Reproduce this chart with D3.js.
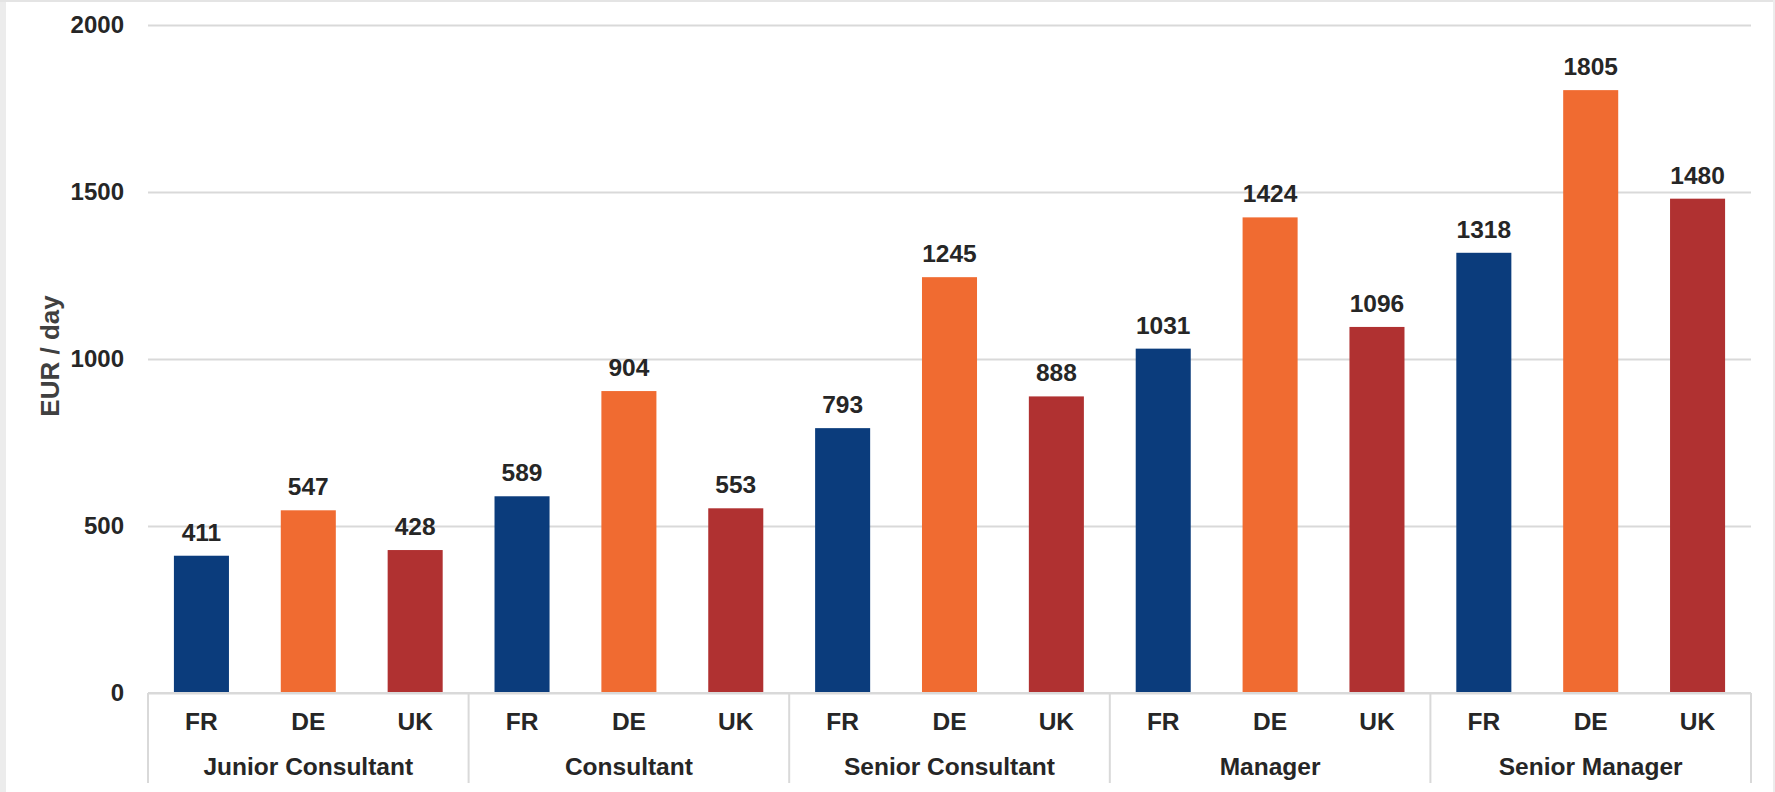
<!DOCTYPE html>
<html>
<head>
<meta charset="utf-8">
<script src="https://cdn.jsdelivr.net/npm/d3@7"></script>
<style>
  html, body { margin: 0; padding: 0; background: #fff; }
  svg { display: block; font-family: "Liberation Sans", Arial, sans-serif; }
</style>
</head>
<body>
<svg id="chart" width="1775" height="792"></svg>
<script>
const groups = ["Junior Consultant", "Consultant", "Senior Consultant", "Manager", "Senior Manager"];
const countries = ["FR", "DE", "UK"];
const valuesFR = [411, 589, 793, 1031, 1318];
const valuesDE = [547, 904, 1245, 1424, 1805];
const valuesUK = [428, 553, 888, 1096, 1480];
const yTicks = [0, 500, 1000, 1500, 2000];
const yTitle = "EUR / day";
const colors = { FR: "#0B3C7C", DE: "#F06B31", UK: "#B03131" };

(function () {
const seriesByCountry = { FR: valuesFR, DE: valuesDE, UK: valuesUK };
const data = [];
groups.forEach((g, i) => countries.forEach(c => data.push({ group: g, country: c, value: seriesByCountry[c][i] })));

const W = 1775, H = 792;
const plotLeft = 148, plotRight = 1751, plotTop = 25, base = 693;
const fs = 24.5;
const svg = d3.select("#chart");

// frame
svg.append("rect").attr("x", 0).attr("y", 0).attr("width", W).attr("height", H).attr("fill", "#fff");
svg.append("rect").attr("x", 0).attr("y", 0).attr("width", 6).attr("height", H).attr("fill", "#ececec");
svg.append("rect").attr("x", 0).attr("y", 0).attr("width", W).attr("height", 2).attr("fill", "#e4e4e4");
svg.append("rect").attr("x", W - 2).attr("y", 0).attr("width", 2).attr("height", H).attr("fill", "#ececec");

const x0 = d3.scaleBand().domain(groups).range([plotLeft, plotRight]).paddingInner(0).paddingOuter(0);
const x1 = d3.scaleBand().domain(countries).range([0, x0.bandwidth()]).paddingInner(0.485).paddingOuter(0.2425);
const y = d3.scaleLinear().domain([0, 2000]).range([base, plotTop]);

// gridlines + y tick labels
const yAxis = d3.axisLeft(y).tickValues(yTicks).tickSize(-(plotRight - plotLeft)).tickPadding(24).tickFormat(d3.format("d"));
const gy = svg.append("g").attr("transform", `translate(${plotLeft},0)`).call(yAxis);
gy.select(".domain").remove();
gy.selectAll(".tick line").attr("stroke", "#d9d9d9").attr("stroke-width", 2);
gy.selectAll(".tick text").attr("fill", "#262626").attr("font-size", 24).attr("font-weight", "bold");

// bars
svg.append("g").selectAll("rect").data(data).join("rect")
  .attr("x", d => x0(d.group) + x1(d.country))
  .attr("y", d => y(d.value))
  .attr("width", x1.bandwidth())
  .attr("height", d => y(0) - y(d.value))
  .attr("fill", d => colors[d.country]);

// value labels
svg.append("g").selectAll("text").data(data).join("text")
  .attr("x", d => x0(d.group) + x1(d.country) + x1.bandwidth() / 2)
  .attr("y", d => y(d.value) - 15)
  .attr("text-anchor", "middle")
  .attr("font-size", fs).attr("font-weight", "bold").attr("fill", "#262626")
  .text(d => d.value);

// x-axis baseline and separators
svg.append("line").attr("x1", plotLeft).attr("x2", plotRight).attr("y1", base).attr("y2", base)
  .attr("stroke", "#d9d9d9").attr("stroke-width", 2);
const sepX = groups.map(g => x0(g)).concat([x0(groups[groups.length - 1]) + x0.bandwidth()]);
svg.append("g").selectAll("line").data(sepX).join("line")
  .attr("x1", d => d).attr("x2", d => d).attr("y1", base).attr("y2", 783)
  .attr("stroke", "#d9d9d9").attr("stroke-width", 2);

// country labels
svg.append("g").selectAll("text").data(data).join("text")
  .attr("x", d => x0(d.group) + x1(d.country) + x1.bandwidth() / 2)
  .attr("y", 730)
  .attr("text-anchor", "middle")
  .attr("font-size", fs).attr("font-weight", "bold").attr("fill", "#262626")
  .text(d => d.country);

// group labels
svg.append("g").selectAll("text").data(groups).join("text")
  .attr("x", d => x0(d) + x0.bandwidth() / 2)
  .attr("y", 775)
  .attr("text-anchor", "middle")
  .attr("font-size", fs).attr("font-weight", "bold").attr("fill", "#262626")
  .text(d => d);

// y title
svg.append("text")
  .attr("transform", `translate(59,356) rotate(-90)`)
  .attr("text-anchor", "middle")
  .attr("font-size", 26).attr("font-weight", "bold").attr("fill", "#404040")
  .text(yTitle);
})();
</script>
</body>
</html>
